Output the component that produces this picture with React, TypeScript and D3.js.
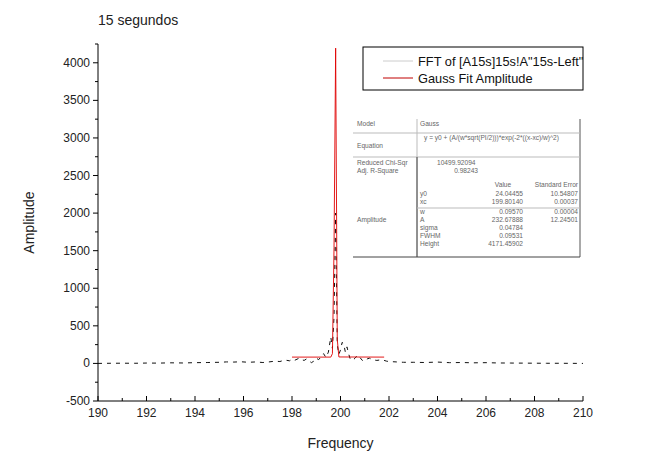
import React from 'react';
import * as d3 from 'd3';

// FFT amplitude spectrum (frequency, amplitude)
const fftFreq = [
  190.0, 190.5, 191.0, 191.5, 192.0, 192.5, 193.0, 193.5, 194.0, 194.5,
  195.0, 195.3, 195.6, 195.9, 196.2, 196.5, 196.8, 197.0, 197.3, 197.5,
  197.7, 197.9, 198.0, 198.1, 198.3, 198.4, 198.5, 198.6, 198.8, 198.9,
  199.0, 199.1, 199.2, 199.3, 199.4, 199.5, 199.6, 199.667, 199.733, 199.8,
  199.867, 199.933, 200.0, 200.067, 200.133, 200.2, 200.267, 200.333, 200.4, 200.5,
  200.6, 200.7, 200.8, 200.9, 201.0, 201.1, 201.2, 201.3, 201.5, 201.7,
  201.9, 202.0, 202.3, 202.6, 203.0, 203.5, 204.0, 204.5, 205.0, 205.5,
  206.0, 206.5, 207.0, 207.5, 208.0, 208.5, 209.0, 209.5, 210.0,
];
const fftAmp = [
  0, 2, 3, 2, 5, 4, 8, 6, 10, 12,
  15, 20, 18, 22, 15, 20, 12, 18, 30, 25,
  45, 35, 55, 40, 70, 50, 40, 60, 10, 30,
  70, 50, 90, 130, 80, 150, 350, 200, 620, 2000,
  250, 120, 180, 280, 260, 150, 220, 130, 60, 40,
  70, 110, 80, 40, 30, 60, 70, 50, 40, 50,
  30, 25, 20, 15, 15, 12, 18, 10, 12, 8,
  10, 6, 5, 4, 3, 2, 2, 1, 0,
];

// Gauss fit curve evaluated on the FFT grid
const fitFreq = [198.0, 199.6, 199.667, 199.733, 199.8, 199.867, 199.933, 201.8];
const fitAmp = [84, 84, 130, 1540, 4195, 320, 86, 84];

const xTicks = [190, 192, 194, 196, 198, 200, 202, 204, 206, 208, 210];
const yTicks = [-500, 0, 500, 1000, 1500, 2000, 2500, 3000, 3500, 4000];

const tableRows = [
  { y: 196, name: 'y0', value: '24.04455', err: '10.54807' },
  { y: 204, name: 'xc', value: '199.80140', err: '0.00037' },
  { y: 214, name: 'w', value: '0.09570', err: '0.00004' },
  { y: 222, name: 'A', value: '232.67888', err: '12.24501' },
  { y: 230, name: 'sigma', value: '0.04784', err: '' },
  { y: 238, name: 'FWHM', value: '0.09531', err: '' },
  { y: 246, name: 'Height', value: '4171.45902', err: '' },
];

const W = 655;
const H = 461;
const margin = { top: 44, right: 72, bottom: 60, left: 98 };

export default function App() {
  const x = d3.scaleLinear().domain([190, 210]).range([margin.left, W - margin.right]);
  const y = d3.scaleLinear().domain([-500, 4250]).range([H - margin.bottom, margin.top]);

  const path = d3
    .line<[number, number]>()
    .x((d) => x(d[0]))
    .y((d) => y(d[1]));
  const fftPath = path(fftFreq.map((f, i) => [f, fftAmp[i]]));
  const fitPath = path(fitFreq.map((f, i) => [f, fitAmp[i]]));

  const x0 = margin.left;
  const yBase = H - margin.bottom;
  const xMinor = d3.range(190, 211, 1).filter((v) => v % 2 !== 0);
  const yMinor = d3.range(-250, 4251, 500);

  const font = 'Arial, "Liberation Sans", sans-serif';
  const tx = 417; // table column split

  return (
    <svg width={W} height={H} style={{ position: 'absolute', left: 0, top: 0, background: '#fff' }} fontFamily={font}>
      <text x={98} y={25} fontSize={14} fill="#222">15 segundos</text>

      {/* data */}
      <path d={fftPath || ''} fill="none" stroke="#111" strokeWidth={1} strokeDasharray="4,5" />
      <path d={fitPath || ''} fill="none" stroke="#e00000" strokeWidth={0.9} />

      {/* axes */}
      <line x1={x0} x2={x0} y1={margin.top} y2={yBase} stroke="#000" />
      <line x1={x0} x2={W - margin.right} y1={yBase} y2={yBase} stroke="#000" />
      {yTicks.map((t) => (
        <g key={'y' + t}>
          <line x1={x0 - 5} x2={x0} y1={y(t)} y2={y(t)} stroke="#000" />
          <text x={x0 - 8} y={y(t) + 4} fontSize={12} textAnchor="end" fill="#222">{t}</text>
        </g>
      ))}
      {yMinor.map((t) => (
        <line key={'ym' + t} x1={x0 - 3} x2={x0} y1={y(t)} y2={y(t)} stroke="#000" />
      ))}
      {xTicks.map((t) => (
        <g key={'x' + t}>
          <line x1={x(t)} x2={x(t)} y1={yBase} y2={yBase - 5} stroke="#000" />
          <text x={x(t)} y={yBase + 16} fontSize={12} textAnchor="middle" fill="#222">{t}</text>
        </g>
      ))}
      {xMinor.map((t) => (
        <line key={'xm' + t} x1={x(t)} x2={x(t)} y1={yBase} y2={yBase - 3} stroke="#000" />
      ))}
      <text x={(x0 + W - margin.right) / 2} y={448} fontSize={14} textAnchor="middle" fill="#222">Frequency</text>
      <text transform={`translate(34,${(margin.top + yBase) / 2}) rotate(-90)`} fontSize={14} textAnchor="middle" fill="#222">Amplitude</text>

      {/* legend */}
      <rect x={363} y={47} width={220} height={43} fill="#fff" stroke="#000" strokeWidth={1} />
      <line x1={383} x2={413} y1={61} y2={61} stroke="#ccc" />
      <text x={418} y={66} fontSize={12.8} fill="#111">FFT of [A15s]15s!A"15s-Left"</text>
      <line x1={383} x2={413} y1={78} y2={78} stroke="#c00000" />
      <text x={418} y={83} fontSize={12.8} fill="#111">Gauss Fit Amplitude</text>

      {/* fit results table */}
      <g fontSize={6.6} fill="#666">
        <rect x={353} y={118} width={227} height={139} fill="#fff" />
        <line x1={580} x2={580} y1={119} y2={257} stroke="#555" />
        <line x1={353} x2={580} y1={133} y2={133} stroke="#bbb" />
        <line x1={353} x2={580} y1={157} y2={157} stroke="#bbb" />
        <line x1={tx} x2={tx} y1={119} y2={257} stroke="#bbb" />
        <line x1={tx} x2={tx} y1={157} y2={257} stroke="#444" />
        <line x1={tx} x2={580} y1={208} y2={208} stroke="#bbb" />
        <line x1={353} x2={580} y1={257} y2={257} stroke="#444" />
        <text x={357} y={126}>Model</text>
        <text x={420} y={126}>Gauss</text>
        <text x={357} y={148}>Equation</text>
        <text x={424} y={140}>y = y0 + (A/(w*sqrt(PI/2)))*exp(-2*((x-xc)/w)^2)</text>
        <text x={357} y={165}>Reduced Chi-Sqr</text>
        <text x={437} y={165}>10499.92094</text>
        <text x={357} y={173}>Adj. R-Square</text>
        <text x={478} y={173} textAnchor="end">0.98243</text>
        <text x={503} y={187} textAnchor="middle">Value</text>
        <text x={578} y={187} textAnchor="end">Standard Error</text>
        <text x={357} y={222}>Amplitude</text>
        {tableRows.map((r) => (
          <g key={r.name}>
            <text x={420} y={r.y}>{r.name}</text>
            <text x={523} y={r.y} textAnchor="end">{r.value}</text>
            <text x={578} y={r.y} textAnchor="end">{r.err}</text>
          </g>
        ))}
      </g>
    </svg>
  );
}
